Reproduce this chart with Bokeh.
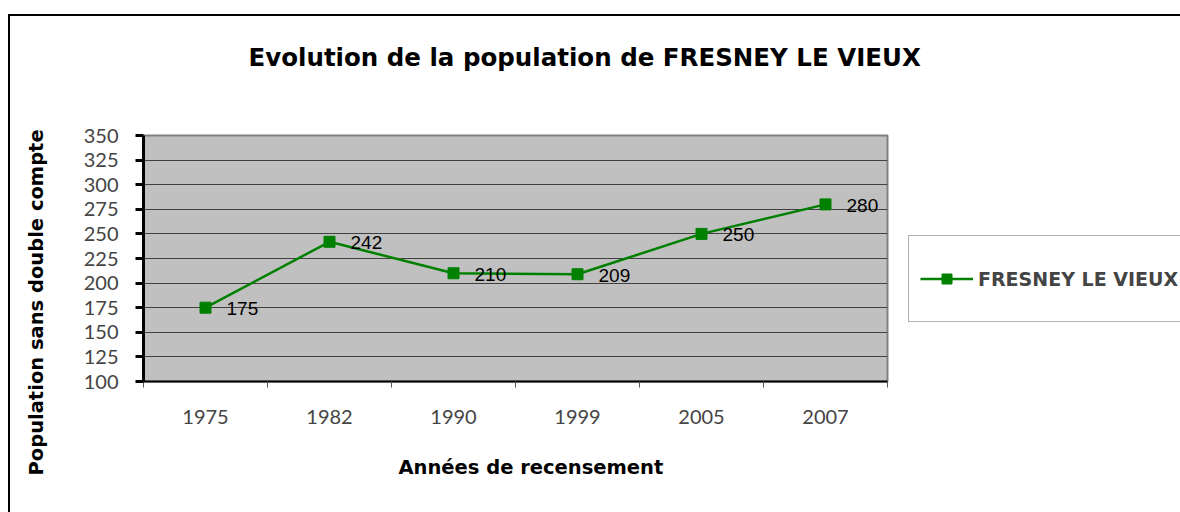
from bokeh.plotting import figure
from bokeh.models import (Range1d, FixedTicker, Legend, LegendItem, Title,
                          ColumnDataSource)
from bokeh.core.properties import value
from bokeh.embed import file_html
from bokeh.resources import INLINE

# ---- data ----
years = ["1975", "1982", "1990", "1999", "2005", "2007"]
population = [175, 242, 210, 209, 250, 280]
series_name = "FRESNEY LE VIEUX"
y_ticks = [100, 125, 150, 175, 200, 225, 250, 275, 300, 325, 350]
title_text = "Evolution de la population de FRESNEY LE VIEUX"
x_title = "Années de recensement"
y_title = "Population sans double compte"

xs = [i + 0.5 for i in range(len(years))]
src = ColumnDataSource(dict(x=xs, y=population, lab=[str(v) for v in population]))

p = figure(frame_width=744, frame_height=246, output_backend="svg", toolbar_location=None,
           x_range=Range1d(0, len(years)), y_range=Range1d(100, 350),
           min_border_left=133, min_border_right=291, min_border_top=119,
           min_border_bottom=131)
p.styles = {"margin-left": "8px", "margin-top": "14px",
            "border-left": "2px solid black", "border-top": "2px solid black"}
p.background_fill_color = "#C0C0C0"
p.border_fill_color = "white"
p.outline_line_color = "#808080"
p.outline_line_width = 2

# y axis
p.yaxis.ticker = FixedTicker(ticks=y_ticks)
p.yaxis.axis_line_color = "black"
p.yaxis.axis_line_width = 3
p.yaxis.major_tick_out = 8
p.yaxis.major_tick_in = 0
p.yaxis.major_tick_line_width = 3
p.yaxis.minor_tick_line_color = None
p.yaxis.major_label_text_font = "Lato"
p.yaxis.major_label_text_font_size = "20px"
p.yaxis.major_label_standoff = 17

# x axis
p.xaxis.ticker = FixedTicker(ticks=xs, minor_ticks=list(range(len(years) + 1)))
p.xaxis.major_label_overrides = {x: yv for x, yv in zip(xs, years)}
p.xaxis.axis_line_color = "black"
p.xaxis.axis_line_width = 2
p.xaxis.major_tick_line_color = None
p.xaxis.minor_tick_out = 6
p.xaxis.minor_tick_in = 0
p.xaxis.minor_tick_line_color = "#555555"
p.xaxis.major_label_text_font = "Lato"
p.xaxis.major_label_text_font_size = "20px"
p.xaxis.major_label_standoff = 22

p.xgrid.grid_line_color = None
p.ygrid.ticker = FixedTicker(ticks=y_ticks)
p.ygrid.grid_line_color = "#404040"
p.ygrid.grid_line_width = 1

ln = p.line("x", "y", source=src, line_color="#008000", line_width=2.5)
sc = p.scatter("x", "y", source=src, marker="square", size=11,
               fill_color="#008000", line_color="#008000")
p.text("x", "y", text="lab", source=src, x_offset=21, y_offset=1,
       text_baseline="middle", text_align="left",
       text_font=value("Liberation Sans"), text_font_size="19px",
       text_color="black")

# legend in right panel
legend = Legend(items=[LegendItem(label=series_name, renderers=[ln, sc])],
                location=(21, 59), orientation="vertical", margin=0,
                border_line_color="#666666", border_line_width=1,
                background_fill_color="white", background_fill_alpha=1,
                padding=11, glyph_width=53, glyph_height=25, label_height=63,
                label_standoff=5,
                label_text_font="DejaVu Sans", label_text_font_style="bold",
                label_text_font_size="19px")
p.add_layout(legend, "right")

TF = "DejaVu Sans"


def spacer(gap):
    # blank (white on white) title used only to reserve space in a side panel
    return Title(text=".", text_font_size="10px", standoff=gap, text_color="white")


# titles (a spacer first, then the text further out)
p.add_layout(spacer(54), "above")
p.add_layout(Title(text=title_text, align="left", offset=105, standoff=0,
                   text_color="black", text_font=TF, text_font_style="bold",
                   text_font_size="24.5px"), "above")
p.add_layout(spacer(17), "below")
p.add_layout(Title(text=x_title, align="left", offset=255, standoff=0,
                   text_color="black", text_font=TF, text_font_style="bold",
                   text_font_size="19.5px"), "below")
p.add_layout(spacer(23), "left")
p.add_layout(Title(text=y_title, align="left", offset=-94, standoff=0,
                   text_color="black", text_font=TF, text_font_style="bold",
                   text_font_size="19.5px"), "left")

open("out.html", "w").write(file_html(p, INLINE))
